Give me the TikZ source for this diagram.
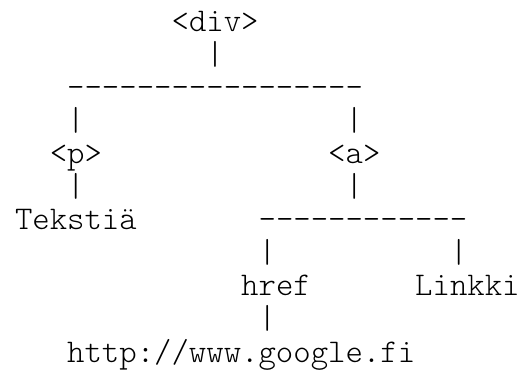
\documentclass[tikz,border=0pt]{standalone}
\usepackage{fontspec}
\setmonofont{Latin Modern Mono Light}
% character grid: column pitch 17.4pt, row pitch 33.1pt
\newcommand\cellat[4]{\node[glyph] (#1) at ({15+#2*17.4},{31+#3*33.1}) {#4};}
\begin{document}
\begin{tikzpicture}[x=1pt,y=-1pt,
  glyph/.style={inner sep=0pt, outer sep=0pt, anchor=base west,
    font=\ttfamily\fontsize{33.14}{33}\selectfont, text=black}]
\useasboundingbox[fill=white] (0,0) rectangle (521,370);
% root
\cellat{div}{9}{0}{<div>}
\cellat{divstem}{11}{1}{|}
\cellat{divbar}{3}{2}{-----------------}
\cellat{pstemup}{3}{3}{|}
\cellat{astemup}{19}{3}{|}
% first level
\cellat{p}{2}{4}{<p>}
\cellat{a}{18}{4}{<a>}
\cellat{pstemdown}{3}{5}{|}
\cellat{astemdown}{19}{5}{|}
% children of <p> and <a>
\cellat{ptext}{0}{6}{Tekstiä}
\cellat{abar}{14}{6}{------------}
\cellat{hrefstem}{14}{7}{|}
\cellat{linkkistem}{25}{7}{|}
\cellat{href}{13}{8}{href}
\cellat{linkki}{23}{8}{Linkki}
\cellat{urlstem}{14}{9}{|}
\cellat{url}{3}{10}{http://www.google.fi}
\end{tikzpicture}
\end{document}
